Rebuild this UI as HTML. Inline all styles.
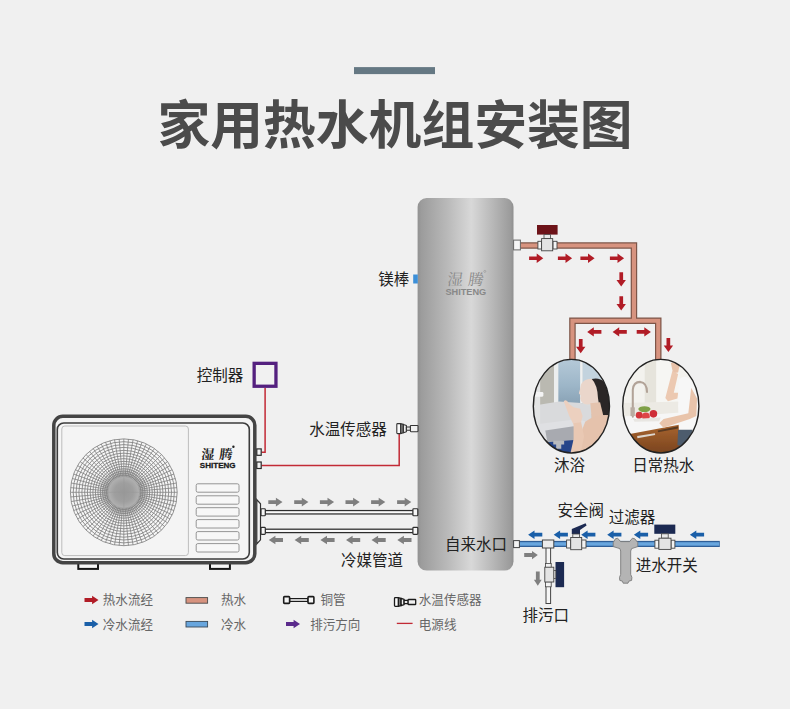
<!DOCTYPE html>
<html lang="zh-CN">
<head>
<meta charset="utf-8">
<title>家用热水机组安装图</title>
<style>
html,body{margin:0;padding:0;background:#f0f0f0;}
body{width:790px;height:709px;overflow:hidden;}
svg{display:block;}
.cjk{font-family:"Liberation Sans","Noto Sans CJK SC",sans-serif;}
.kai{font-family:"Liberation Serif","Noto Serif CJK SC",serif;}
.lat{font-family:"Liberation Sans",sans-serif;}
</style>
</head>
<body>
<svg width="790" height="709" viewBox="0 0 790 709">
<defs>
<linearGradient id="tankg" x1="0" y1="0" x2="1" y2="0">
<stop offset="0" stop-color="#929292"/>
<stop offset="0.04" stop-color="#9c9c9c"/>
<stop offset="0.3" stop-color="#b8b8b8"/>
<stop offset="0.56" stop-color="#d8d8d8"/>
<stop offset="0.78" stop-color="#b8b8b8"/>
<stop offset="0.97" stop-color="#9b9b9b"/>
<stop offset="1" stop-color="#8f8f8f"/>
</linearGradient>
<radialGradient id="hubg">
<stop offset="0" stop-color="#bcbcbc"/>
<stop offset="0.6" stop-color="#c0c0c0"/>
<stop offset="0.8" stop-color="#d2d2d2" stop-opacity="0.9"/>
<stop offset="1" stop-color="#f0f0f0" stop-opacity="0"/>
</radialGradient>
<radialGradient id="hubc">
<stop offset="0" stop-color="#989898"/>
<stop offset="0.6" stop-color="#9f9f9f"/>
<stop offset="1" stop-color="#b2b2b2"/>
</radialGradient>
<clipPath id="e1"><ellipse cx="571.4" cy="406.2" rx="38.1" ry="46.8"/></clipPath>
<clipPath id="e2"><ellipse cx="660.8" cy="406.2" rx="38.1" ry="46.8"/></clipPath>
<filter id="pblur" x="-5%" y="-5%" width="110%" height="110%"><feGaussianBlur stdDeviation="0.55"/></filter>
<linearGradient id="sea" x1="0" y1="0" x2="0" y2="1"><stop offset="0" stop-color="#b5c9d8"/><stop offset="0.6" stop-color="#9db6c8"/><stop offset="1" stop-color="#8aa3b6"/></linearGradient>
<linearGradient id="wood" x1="0" y1="0" x2="0" y2="1"><stop offset="0" stop-color="#a8642f"/><stop offset="1" stop-color="#74401c"/></linearGradient>
</defs>
<rect width="790" height="709" fill="#f0f0f0"/>
<rect x="354" y="67.1" width="81" height="7" fill="#657883"/>
<text x="395" y="143.6" text-anchor="middle" font-size="52.8" font-weight="700" fill="#4b4b4b" class="cjk">家用热水机组安装图</text>
<path d="M513 245.45 H633.95 V321 M572.45 360 V320.75 H658.25 V360" fill="none" stroke="#7d5548" stroke-width="6.5" stroke-linejoin="miter"/>
<path d="M513 245.45 H633.95 V321 M572.45 360 V320.75 H658.25 V360" fill="none" stroke="#d7937f" stroke-width="4.1" stroke-linejoin="miter"/>
<rect x="513" y="540.9" width="206.8" height="6.1" fill="#2f5f98"/>
<rect x="513" y="542.2" width="206.2" height="3.5" fill="#68a6de"/>
<rect x="417.6" y="198" width="95.9" height="372.6" rx="9" fill="url(#tankg)"/>
<g transform="translate(465.3 284.5) skewX(-7)"><text x="-18.6" y="0" font-size="15.6" fill="#8a8a8a" class="kai">湿</text><text x="2.3" y="0" font-size="15.6" fill="#8a8a8a" class="kai">腾</text></g>
<circle cx="484.8" cy="271.4" r="1" fill="none" stroke="#8a8a8a" stroke-width="0.5"/>
<text x="465.8" y="295.4" text-anchor="middle" font-size="9.2" font-weight="700" fill="#888" class="lat">SHITENG</text>
<rect x="413.2" y="274.5" width="4.6" height="9" fill="#3c8fd8"/>
<text x="378.2" y="284.6" font-size="15.5" fill="#222" class="cjk">镁棒</text>
<rect x="513.6" y="240.1" width="6.8" height="9.8" fill="#f6f6f6" stroke="#666" stroke-width="1"/>
<rect x="513.6" y="540.6" width="5.8" height="7" fill="#f4f4f4" stroke="#444" stroke-width="1"/>
<rect x="537" y="225" width="20.6" height="9.6" fill="#6d1319"/>
<rect x="544" y="234.6" width="6.5" height="4" fill="#e9e9e9" stroke="#444" stroke-width="0.8"/>
<rect x="537.9" y="241.3" width="3.6" height="7.7" fill="#f4f4f4" stroke="#444" stroke-width="0.9"/>
<rect x="553" y="241.3" width="4" height="7.7" fill="#f4f4f4" stroke="#444" stroke-width="0.9"/>
<rect x="541.6" y="238.6" width="11.1" height="12.2" fill="#e4e4e4" stroke="#444" stroke-width="0.9"/>
<polygon points="529.1,256.4 536.7,256.4 536.7,253.6 543.3,258.2 536.7,262.9 536.7,260.1 529.1,260.1" fill="#b11c26"/>
<polygon points="557.9,256.4 565.5,256.4 565.5,253.6 572.1,258.2 565.5,262.9 565.5,260.1 557.9,260.1" fill="#b11c26"/>
<polygon points="580.4,256.4 588.0,256.4 588.0,253.6 594.6,258.2 588.0,262.9 588.0,260.1 580.4,260.1" fill="#b11c26"/>
<polygon points="609.9,256.4 617.5,256.4 617.5,253.6 624.1,258.2 617.5,262.9 617.5,260.1 609.9,260.1" fill="#b11c26"/>
<polygon points="623.1,272.3 623.1,279.9 625.9,279.9 621.2,286.5 616.5,279.9 619.4,279.9 619.4,272.3" fill="#b11c26"/>
<polygon points="623.1,296.3 623.1,303.9 625.9,303.9 621.2,310.5 616.5,303.9 619.4,303.9 619.4,296.3" fill="#b11c26"/>
<polygon points="601.4,330.0 593.8,330.0 593.8,327.2 587.2,331.9 593.8,336.6 593.8,333.8 601.4,333.8" fill="#b11c26"/>
<polygon points="626.8,330.0 619.2,330.0 619.2,327.2 612.6,331.9 619.2,336.6 619.2,333.8 626.8,333.8" fill="#b11c26"/>
<polygon points="636.7,330.0 644.3,330.0 644.3,327.2 650.9,331.9 644.3,336.6 644.3,333.8 636.7,333.8" fill="#b11c26"/>
<polygon points="582.6,339.1 582.6,346.7 585.4,346.7 580.7,353.3 576.0,346.7 578.9,346.7 578.9,339.1" fill="#b11c26"/>
<polygon points="670.2,337.9 670.2,345.5 673.1,345.5 668.4,352.1 663.7,345.5 666.5,345.5 666.5,337.9" fill="#b11c26"/>
<g clip-path="url(#e1)"><g filter="url(#pblur)"><g transform="translate(530 355) scale(0.14535)">
<rect x="-10" y="-10" width="610" height="730" fill="#cfd0cf"/>
<rect x="20" y="40" width="160" height="330" fill="#bab9b1"/>
<rect x="165" y="30" width="35" height="310" fill="#eceeee"/>
<rect x="195" y="30" width="155" height="300" fill="url(#sea)"/>
<rect x="345" y="30" width="18" height="300" fill="#eef0f0"/>
<rect x="362" y="40" width="130" height="170" fill="#c3d3de"/>
<rect x="362" y="205" width="200" height="200" fill="#d9dcdd"/>
<path d="M20 350 L200 320 L350 330 L420 360 L420 500 L20 520Z" fill="#d9dadc"/>
<path d="M20 480 L330 440 L420 470 L400 640 L20 700Z" fill="#dfe0e3"/>
<path d="M105 520 L300 490 L330 520 L300 590 L120 600Z" fill="#a8aab0"/>
<path d="M120 600 L300 585 L330 700 L120 700Z" fill="#27458a"/>
<path d="M160 590 H235 V615 H215 V645 H180 V615 H160Z" fill="#b9bbbf"/>
<rect x="30" y="170" width="40" height="330" fill="#e3e4e4"/>
<rect x="32" y="255" width="60" height="32" rx="8" fill="#f4f4f4"/>
<path d="M352 200 Q346 232 336 264 L350 280 L345 300 L353 320 Q372 346 410 338 L470 330 L482 240 Q470 172 420 164 Q370 168 352 200Z" fill="#ead6cb"/>
<path d="M425 165 Q520 145 548 260 L552 440 L485 405 L468 300 Q465 205 425 165Z" fill="#2b2726"/>
<path d="M415 332 L482 325 L505 420 L425 440Z" fill="#e4c3ae"/>
<path d="M380 460 Q450 400 560 415 L560 700 L330 700 L340 560Z" fill="#e5c2ac"/>
<path d="M232 318 Q250 300 268 335 L300 360 L345 370 L362 420 L350 470 L300 480 L270 420Z" fill="#ecd0bf"/>
<path d="M300 470 L352 462 L372 560 L345 690 L275 690 L300 580Z" fill="#e9c8b3"/>
</g></g></g>
<ellipse cx="571.4" cy="406.2" rx="38.1" ry="46.8" fill="none" stroke="#222" stroke-width="1.4"/>
<g clip-path="url(#e2)"><g filter="url(#pblur)"><g transform="translate(620 355) scale(0.14535)">
<rect x="-10" y="-10" width="610" height="730" fill="#f3f2ee"/>
<rect x="170" y="30" width="80" height="340" fill="#e6e4dc"/>
<rect x="250" y="30" width="160" height="350" fill="#f6f6f3"/>
<path d="M20 330 L420 320 L420 400 L20 420Z" fill="#eceae4"/>
<path d="M20 425 L420 395 L420 490 L60 545 L20 540Z" fill="#f6f6f6"/>
<path d="M40 548 L415 478 L415 700 L40 700Z" fill="url(#wood)"/>
<path d="M118 558 L240 538 L242 550 L120 572Z" fill="#ddd6ce"/>
<path d="M88 425 V240 Q92 185 140 185 Q185 190 186 255" fill="none" stroke="#b2a398" stroke-width="14" stroke-linecap="round"/>
<rect x="72" y="360" width="30" height="60" fill="#b9aca2"/>
<ellipse cx="168" cy="372" rx="42" ry="20" fill="#7fa046"/>
<circle cx="132" cy="415" r="24" fill="#d2353b"/>
<circle cx="178" cy="422" r="27" fill="#de4446"/>
<circle cx="230" cy="405" r="26" fill="#cf2f38"/>
<path d="M90 440 L280 430 L270 455 L100 460Z" fill="#e8e6e2"/>
<path d="M405 170 Q450 120 500 190 L535 300 L530 520 L405 520 Q395 350 405 170Z" fill="#f7f7f7"/>
<path d="M400 515 L500 515 L470 640 L395 620Z" fill="#4e5b6d"/>
<path d="M350 55 Q385 40 410 70 L400 120 L365 125Z" fill="#e8c3aa"/>
<path d="M360 110 L400 130 L370 260 L400 260 L395 300 L330 318 L312 295Z" fill="#ecc9b1"/>
<path d="M490 225 L530 300 L525 420 L480 440 L300 500 L270 470 L300 440 L470 400 Z" fill="#e9c4ab"/>
<path d="M260 520 L400 490 L400 505 L262 532Z" fill="#5a3a22"/>
</g></g></g>
<ellipse cx="660.8" cy="406.2" rx="38.1" ry="46.8" fill="none" stroke="#222" stroke-width="1.4"/>
<text x="569.6" y="470.5" text-anchor="middle" font-size="15.5" fill="#222" class="cjk">沐浴</text>
<text x="663.3" y="470.5" text-anchor="middle" font-size="15.5" fill="#222" class="cjk">日常热水</text>
<rect x="254.15" y="363.35" width="21.8" height="22.9" fill="#f1f1f1" stroke="#54207f" stroke-width="3.3"/>
<text x="196.8" y="381.3" font-size="15.5" fill="#222" class="cjk">控制器</text>
<path d="M261.5 452.2 H265.1 V388" fill="none" stroke="#c22a35" stroke-width="1.5"/>
<path d="M261.5 465.4 H399.2 V433" fill="none" stroke="#c22a35" stroke-width="1.5"/>
<text x="309.3" y="435.1" font-size="15.5" fill="#222" class="cjk">水温传感器</text>
<g transform="translate(396.2,428.6)" stroke="#333" stroke-width="1.1" stroke-linejoin="round"><path d="M4.2 -5.0 L7.2 -4.2 V4.2 L4.2 5.0Z" fill="#7a7a7a"/><path d="M7.2 -4.2 L10.2 -3.2 V3.2 L7.2 4.2Z" fill="#f0f0f0"/><rect x="10.2" y="-1.6" width="4.2" height="3.2" fill="#e8e8e8"/><rect x="0.6" y="-5.0" width="3.8" height="10.0" rx="0.8" fill="#fbfbfb"/><rect x="14.2" y="-3.1" width="7.6" height="6.2" rx="0.6" fill="#f0f0f0"/></g>
<rect x="78.3" y="562" width="19.7" height="6.9" fill="#f6f6f6" stroke="#151515" stroke-width="2"/>
<rect x="210" y="562" width="19.9" height="6.9" fill="#f6f6f6" stroke="#151515" stroke-width="2"/>
<rect x="53.8" y="416.3" width="201" height="146.4" rx="9" fill="#f3f3f3" stroke="#444" stroke-width="3.5"/>
<rect x="57.3" y="423" width="192" height="136" rx="6.5" fill="#f5f5f5" stroke="#3c3c3c" stroke-width="1.6"/>
<rect x="61.8" y="426" width="126.6" height="129.6" rx="3" fill="#f4f4f4" stroke="#bdbdbd" stroke-width="1"/>
<circle cx="123.8" cy="492.3" r="53.4" fill="#f6f6f6"/>
<circle cx="123.8" cy="492.3" r="27" fill="url(#hubg)"/>
<path d="M139.30 492.30L177.20 492.30M139.24 493.65L177.00 496.95M139.06 494.99L176.39 501.57M138.77 496.31L175.38 506.12M138.37 497.60L173.98 510.56M137.85 498.85L172.20 514.87M137.22 500.05L170.05 519.00M136.50 501.19L167.54 522.93M135.67 502.26L164.71 526.62M134.76 503.26L161.56 530.06M133.76 504.17L158.12 533.21M132.69 505.00L154.43 536.04M131.55 505.72L150.50 538.55M130.35 506.35L146.37 540.70M129.10 506.87L142.06 542.48M127.81 507.27L137.62 543.88M126.49 507.56L133.07 544.89M125.15 507.74L128.45 545.50M123.80 507.80L123.80 545.70M122.45 507.74L119.15 545.50M121.11 507.56L114.53 544.89M119.79 507.27L109.98 543.88M118.50 506.87L105.54 542.48M117.25 506.35L101.23 540.70M116.05 505.72L97.10 538.55M114.91 505.00L93.17 536.04M113.84 504.17L89.48 533.21M112.84 503.26L86.04 530.06M111.93 502.26L82.89 526.62M111.10 501.19L80.06 522.93M110.38 500.05L77.55 519.00M109.75 498.85L75.40 514.87M109.23 497.60L73.62 510.56M108.83 496.31L72.22 506.12M108.54 494.99L71.21 501.57M108.36 493.65L70.60 496.95M108.30 492.30L70.40 492.30M108.36 490.95L70.60 487.65M108.54 489.61L71.21 483.03M108.83 488.29L72.22 478.48M109.23 487.00L73.62 474.04M109.75 485.75L75.40 469.73M110.38 484.55L77.55 465.60M111.10 483.41L80.06 461.67M111.93 482.34L82.89 457.98M112.84 481.34L86.04 454.54M113.84 480.43L89.48 451.39M114.91 479.60L93.17 448.56M116.05 478.88L97.10 446.05M117.25 478.25L101.23 443.90M118.50 477.73L105.54 442.12M119.79 477.33L109.98 440.72M121.11 477.04L114.53 439.71M122.45 476.86L119.15 439.10M123.80 476.80L123.80 438.90M125.15 476.86L128.45 439.10M126.49 477.04L133.07 439.71M127.81 477.33L137.62 440.72M129.10 477.73L142.06 442.12M130.35 478.25L146.37 443.90M131.55 478.88L150.50 446.05M132.69 479.60L154.43 448.56M133.76 480.43L158.12 451.39M134.76 481.34L161.56 454.54M135.67 482.34L164.71 457.98M136.50 483.41L167.54 461.67M137.22 484.55L170.05 465.60M137.85 485.75L172.20 469.73M138.37 487.00L173.98 474.04M138.77 488.29L175.38 478.48M139.06 489.61L176.39 483.03M139.24 490.95L177.00 487.65" stroke="#808080" stroke-width="0.8" fill="none"/>
<g stroke="#808080" stroke-width="0.85" fill="none"><circle cx="123.8" cy="492.3" r="53.40"/><circle cx="123.8" cy="492.3" r="50.60"/><circle cx="123.8" cy="492.3" r="47.70"/><circle cx="123.8" cy="492.3" r="44.90"/><circle cx="123.8" cy="492.3" r="41.95"/><circle cx="123.8" cy="492.3" r="39.15"/><circle cx="123.8" cy="492.3" r="36.45"/><circle cx="123.8" cy="492.3" r="33.65"/><circle cx="123.8" cy="492.3" r="30.95"/><circle cx="123.8" cy="492.3" r="28.45"/><circle cx="123.8" cy="492.3" r="25.90"/><circle cx="123.8" cy="492.3" r="23.50"/><circle cx="123.8" cy="492.3" r="21.20"/><circle cx="123.8" cy="492.3" r="19.10"/><circle cx="123.8" cy="492.3" r="17.20"/></g>
<circle cx="123.8" cy="492.3" r="15.9" fill="url(#hubc)" stroke="#999" stroke-width="0.6"/>
<path d="M107.8 492.3H139.8M123.8 476.3V508.3" stroke="#999" stroke-width="0.5"/>
<g transform="translate(217 458.6) skewX(-7)"><text x="-16.2" y="0" font-size="13.2" font-weight="700" fill="#222" class="kai">湿</text><text x="1.8" y="0" font-size="13.2" font-weight="700" fill="#222" class="kai">腾</text></g>
<circle cx="233.4" cy="446.8" r="1.2" fill="#222"/>
<text x="217.7" y="467.7" text-anchor="middle" font-size="8.05" font-weight="700" fill="#1a1a1a" stroke="#1a1a1a" stroke-width="0.3" class="lat">SHITENG</text>
<rect x="196.2" y="483.8" width="42.8" height="8.4" rx="1.6" fill="#f7f7f7" stroke="#8a8a8a" stroke-width="0.9"/>
<rect x="196.2" y="495.8" width="42.8" height="8.4" rx="1.6" fill="#f7f7f7" stroke="#8a8a8a" stroke-width="0.9"/>
<rect x="196.2" y="507.7" width="42.8" height="8.4" rx="1.6" fill="#f7f7f7" stroke="#8a8a8a" stroke-width="0.9"/>
<rect x="196.2" y="519.6" width="42.8" height="8.4" rx="1.6" fill="#f7f7f7" stroke="#8a8a8a" stroke-width="0.9"/>
<rect x="196.2" y="531.6" width="42.8" height="8.4" rx="1.6" fill="#f7f7f7" stroke="#8a8a8a" stroke-width="0.9"/>
<rect x="196.2" y="543.6" width="42.8" height="8.4" rx="1.6" fill="#f7f7f7" stroke="#8a8a8a" stroke-width="0.9"/>
<rect x="256.8" y="448.9" width="4.4" height="6.4" fill="#f4f4f4" stroke="#2a2a2a" stroke-width="1.2"/>
<rect x="256.8" y="462" width="4.4" height="6.5" fill="#f4f4f4" stroke="#2a2a2a" stroke-width="1.2"/>
<path d="M256.8 499.6 L260.5 503.8 V539.8 L256.8 544Z" fill="#f2f2f2" stroke="#333" stroke-width="1.2"/>
<rect x="265" y="510.55" width="148.5" height="3.4" fill="#fafafa" stroke="#2c2c2c" stroke-width="1.25"/>
<rect x="261" y="508.75" width="4.3" height="7" rx="0.8" fill="#f6f6f6" stroke="#2c2c2c" stroke-width="1.2"/>
<rect x="412.9" y="508.75" width="4.9" height="7" rx="0.8" fill="#f6f6f6" stroke="#2c2c2c" stroke-width="1.2"/>
<rect x="265" y="529.1999999999999" width="148.5" height="3.4" fill="#fafafa" stroke="#2c2c2c" stroke-width="1.25"/>
<rect x="261" y="527.4" width="4.3" height="7" rx="0.8" fill="#f6f6f6" stroke="#2c2c2c" stroke-width="1.2"/>
<rect x="412.9" y="527.4" width="4.9" height="7" rx="0.8" fill="#f6f6f6" stroke="#2c2c2c" stroke-width="1.2"/>
<polygon points="268.3,500.2 275.9,500.2 275.9,497.8 282.5,502.1 275.9,506.4 275.9,504.0 268.3,504.0" fill="#7f7f7f"/>
<polygon points="294.2,500.2 301.8,500.2 301.8,497.8 308.4,502.1 301.8,506.4 301.8,504.0 294.2,504.0" fill="#7f7f7f"/>
<polygon points="319.9,500.2 327.5,500.2 327.5,497.8 334.1,502.1 327.5,506.4 327.5,504.0 319.9,504.0" fill="#7f7f7f"/>
<polygon points="345.5,500.2 353.1,500.2 353.1,497.8 359.7,502.1 353.1,506.4 353.1,504.0 345.5,504.0" fill="#7f7f7f"/>
<polygon points="371.1,500.2 378.7,500.2 378.7,497.8 385.3,502.1 378.7,506.4 378.7,504.0 371.1,504.0" fill="#7f7f7f"/>
<polygon points="397.1,500.2 404.7,500.2 404.7,497.8 411.3,502.1 404.7,506.4 404.7,504.0 397.1,504.0" fill="#7f7f7f"/>
<polygon points="283.0,538.1 275.4,538.1 275.4,535.7 268.8,540.0 275.4,544.3 275.4,541.9 283.0,541.9" fill="#7f7f7f"/>
<polygon points="308.8,538.1 301.2,538.1 301.2,535.7 294.6,540.0 301.2,544.3 301.2,541.9 308.8,541.9" fill="#7f7f7f"/>
<polygon points="334.6,538.1 327.0,538.1 327.0,535.7 320.4,540.0 327.0,544.3 327.0,541.9 334.6,541.9" fill="#7f7f7f"/>
<polygon points="360.2,538.1 352.6,538.1 352.6,535.7 346.0,540.0 352.6,544.3 352.6,541.9 360.2,541.9" fill="#7f7f7f"/>
<polygon points="385.7,538.1 378.1,538.1 378.1,535.7 371.5,540.0 378.1,544.3 378.1,541.9 385.7,541.9" fill="#7f7f7f"/>
<polygon points="411.5,538.1 403.9,538.1 403.9,535.7 397.3,540.0 403.9,544.3 403.9,541.9 411.5,541.9" fill="#7f7f7f"/>
<text x="341" y="566" font-size="15.5" fill="#222" class="cjk">冷媒管道</text>
<text x="445.1" y="549.9" font-size="15.5" fill="#222" class="cjk">自来水口</text>
<rect x="546" y="547" width="4.6" height="56.5" fill="#f6f6f6" stroke="#444" stroke-width="1"/>
<rect x="542.4" y="540" width="11.4" height="8" fill="#ececec" stroke="#444" stroke-width="1"/>
<rect x="555.5" y="562" width="8.6" height="25.2" fill="#1c2a52"/>
<rect x="553.4" y="570.6" width="2.4" height="8" fill="#e9e9e9" stroke="#444" stroke-width="0.8"/>
<rect x="545.4" y="563.6" width="5.8" height="3.8" fill="#f2f2f2" stroke="#444" stroke-width="0.8"/>
<rect x="545.4" y="581.8" width="5.8" height="5" fill="#f2f2f2" stroke="#444" stroke-width="0.8"/>
<rect x="544.8" y="567.2" width="9" height="14.8" fill="#e4e4e4" stroke="#444" stroke-width="0.9"/>
<path d="M571.8 534 V529 L585.6 523.2 L586.6 525.4 L580 530 V534Z" fill="#1c2a52"/>
<rect x="572.8" y="534" width="6.6" height="3.6" fill="#e9e9e9" stroke="#444" stroke-width="0.8"/>
<rect x="566.6" y="540" width="4.2" height="8" fill="#f2f2f2" stroke="#444" stroke-width="0.9"/>
<rect x="581.6" y="540" width="4.4" height="8" fill="#f2f2f2" stroke="#444" stroke-width="0.9"/>
<rect x="570.7" y="537.5" width="11" height="12.2" fill="#e4e4e4" stroke="#444" stroke-width="0.9"/>
<path d="M613.2 546.6 V542.6 L615.4 538.8 L617.6 538.2 L620.6 541.6 H629.6 L632.4 538.2 L634.8 538.8 L637.8 542.6 V546.6 L631.6 548.6 L630.7 551 V574.4 L631.9 577.4 L631.6 580.4 L628.8 581.2 L628 583.2 H623.2 L622.4 581.2 L619.8 580.4 L619.5 577.4 L620.7 574.4 V551 L619.9 548.6Z" fill="#b4b4b4" stroke="#7a7a7a" stroke-width="0.9" stroke-linejoin="round"/>
<rect x="654.3" y="524.6" width="21" height="9.2" fill="#1c2a52"/>
<rect x="661.6" y="533.8" width="6.6" height="4.4" fill="#e9e9e9" stroke="#444" stroke-width="0.8"/>
<rect x="654.9" y="540.2" width="4" height="8" fill="#f2f2f2" stroke="#444" stroke-width="0.9"/>
<rect x="671" y="540.2" width="3.9" height="8" fill="#f2f2f2" stroke="#444" stroke-width="0.9"/>
<rect x="658.9" y="538.2" width="12.1" height="11.2" fill="#e4e4e4" stroke="#444" stroke-width="0.9"/>
<polygon points="542.3,532.8 534.5,532.8 534.5,530.4 528.1,534.7 534.5,539.0 534.5,536.6 542.3,536.6" fill="#1a5fa8"/>
<polygon points="567.9,532.8 560.1,532.8 560.1,530.4 553.7,534.7 560.1,539.0 560.1,536.6 567.9,536.6" fill="#1a5fa8"/>
<polygon points="595.4,532.8 587.6,532.8 587.6,530.4 581.2,534.7 587.6,539.0 587.6,536.6 595.4,536.6" fill="#1a5fa8"/>
<polygon points="621.4,532.8 613.6,532.8 613.6,530.4 607.2,534.7 613.6,539.0 613.6,536.6 621.4,536.6" fill="#1a5fa8"/>
<polygon points="648.1,532.8 640.3,532.8 640.3,530.4 633.9,534.7 640.3,539.0 640.3,536.6 648.1,536.6" fill="#1a5fa8"/>
<polygon points="704.1,532.8 696.3,532.8 696.3,530.4 689.9,534.7 696.3,539.0 696.3,536.6 704.1,536.6" fill="#1a5fa8"/>
<polygon points="524.2,553.1 532.0,553.1 532.0,550.9 537.8,555.1 532.0,559.3 532.0,557.1 524.2,557.1" fill="#7f7f7f"/>
<polygon points="539.7,571.4 539.7,579.8 541.7,579.8 537.8,585.8 533.9,579.8 535.9,579.8 535.9,571.4" fill="#7f7f7f"/>
<text x="557.4" y="515.5" font-size="15.5" fill="#222" class="cjk">安全阀</text>
<text x="608.8" y="523" font-size="15.5" fill="#222" class="cjk">过滤器</text>
<text x="635.8" y="571.3" font-size="15.5" fill="#222" class="cjk">进水开关</text>
<text x="522.5" y="621.3" font-size="15.5" fill="#222" class="cjk">排污口</text>
<polygon points="84.5,598.0 92.1,598.0 92.1,595.7 98.5,600.0 92.1,604.3 92.1,602.0 84.5,602.0" fill="#b11c26"/>
<polygon points="84.5,622.0 92.1,622.0 92.1,619.7 98.5,624.0 92.1,628.3 92.1,626.0 84.5,626.0" fill="#1a5fa8"/>
<text x="102.8" y="604.2" font-size="12.55" fill="#666" class="cjk">热水流经</text>
<text x="102.8" y="628.5" font-size="12.55" fill="#666" class="cjk">冷水流经</text>
<rect x="186" y="597.6" width="21.6" height="5.6" fill="#d7937f" stroke="#4a4a4a" stroke-width="0.9"/>
<rect x="186" y="621.4" width="21.6" height="5.6" fill="#68a6de" stroke="#3a4a5a" stroke-width="0.9"/>
<text x="221" y="604.2" font-size="12.55" fill="#666" class="cjk">热水</text>
<text x="221" y="628.5" font-size="12.55" fill="#666" class="cjk">冷水</text>
<rect x="289.6" y="598.6" width="18.4" height="2.8" fill="#f6f6f6" stroke="#1a1a1a" stroke-width="1.2"/>
<rect x="283.7" y="596.6" width="5.9" height="6.8" rx="0.8" fill="#f4f4f4" stroke="#1a1a1a" stroke-width="1.6"/>
<rect x="308" y="596.6" width="5.9" height="6.8" rx="0.8" fill="#f4f4f4" stroke="#1a1a1a" stroke-width="1.6"/>
<text x="320.4" y="604.2" font-size="12.55" fill="#666" class="cjk">铜管</text>
<polygon points="286.0,622.0 293.6,622.0 293.6,619.7 300.0,624.0 293.6,628.3 293.6,626.0 286.0,626.0" fill="#5b2a8c"/>
<text x="310.2" y="628.5" font-size="12.55" fill="#666" class="cjk">排污方向</text>
<g transform="translate(393.9,602)" stroke="#1a1a1a" stroke-width="1.3" stroke-linejoin="round"><path d="M4.2 -4.4 L7.2 -3.6000000000000005 V3.6000000000000005 L4.2 4.4Z" fill="#7a7a7a"/><path d="M7.2 -3.6000000000000005 L10.2 -2.6000000000000005 V2.6000000000000005 L7.2 3.6000000000000005Z" fill="#f0f0f0"/><rect x="10.2" y="-1.6" width="4.2" height="3.2" fill="#e8e8e8"/><rect x="0.6" y="-4.4" width="3.8" height="8.8" rx="0.8" fill="#fbfbfb"/><rect x="14.2" y="-2.5000000000000004" width="7.6" height="5.000000000000001" rx="0.6" fill="#f0f0f0"/></g>
<text x="418.8" y="604.2" font-size="12.55" fill="#666" class="cjk">水温传感器</text>
<path d="M396.8 623.4 H412.6" stroke="#c22a35" stroke-width="1.3"/>
<text x="418.8" y="628.5" font-size="12.55" fill="#666" class="cjk">电源线</text>
</svg>
</body>
</html>
